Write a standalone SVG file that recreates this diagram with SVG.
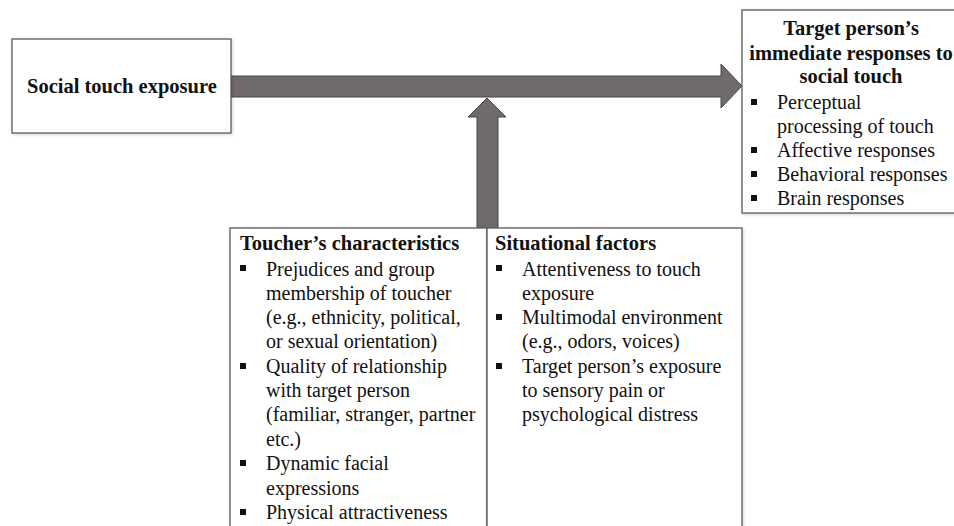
<svg xmlns="http://www.w3.org/2000/svg" width="954" height="526" viewBox="0 0 954 526">
<style>
.box{fill:#fff;stroke:#5a5a5a;stroke-width:1.3;filter:url(#sh)}
.arrow{fill:#716a6a;stroke:#4a4545;stroke-width:1}
.t{font-family:"Liberation Serif","Times New Roman",serif;font-size:20px;fill:#111}
.b{font-family:"Liberation Serif","Times New Roman",serif;font-size:20.5px;font-weight:bold;fill:#111}
.bul{fill:#111}
</style>
<defs>
<filter id="sh" x="-10%" y="-10%" width="120%" height="120%">
<feDropShadow dx="1" dy="1" stdDeviation="1.5" flood-color="#000" flood-opacity="0.18"/>
</filter>
</defs>
<g id="connectors">
<path class="arrow" d="M231,76 H721 V64 L742,86 L721,108 V97 H231 Z"/>
<path class="arrow" d="M477,230 V117 H468 L487,98 L506,117 H498 V230 Z"/>
</g>
<g id="social-touch-exposure">
<rect class="box" x="12" y="39" width="219" height="94"/>
<text class="b" x="27" y="93">Social touch exposure</text>
</g>
<g id="target-responses">
<rect class="box" x="742" y="10" width="220" height="203"/>
<text class="b" text-anchor="middle" x="851" y="35">Target person’s</text>
<text class="b" text-anchor="middle" x="851" y="60">immediate responses to</text>
<text class="b" text-anchor="middle" x="851" y="83">social touch</text>
<rect class="bul" x="751" y="99" width="6" height="6"/>
<text class="t" x="777" y="109">Perceptual</text>
<text class="t" x="777" y="133">processing of touch</text>
<rect class="bul" x="751" y="147" width="6" height="6"/>
<text class="t" x="777" y="157">Affective responses</text>
<rect class="bul" x="751" y="171" width="6" height="6"/>
<text class="t" x="777" y="181">Behavioral responses</text>
<rect class="bul" x="751" y="195" width="6" height="6"/>
<text class="t" x="777" y="205">Brain responses</text>
</g>
<g id="touchers-characteristics">
<rect class="box" x="230" y="228" width="257" height="310"/>
<text class="b" x="240" y="249.5">Toucher’s characteristics</text>
<rect class="bul" x="240" y="265" width="6" height="6"/>
<text class="t" x="266" y="275.5">Prejudices and group</text>
<text class="t" x="266" y="299.8">membership of toucher</text>
<text class="t" x="266" y="324.1">(e.g., ethnicity, political,</text>
<text class="t" x="266" y="348.4">or sexual orientation)</text>
<rect class="bul" x="240" y="363" width="6" height="6"/>
<text class="t" x="266" y="372.7">Quality of relationship</text>
<text class="t" x="266" y="397">with target person</text>
<text class="t" x="266" y="421.4">(familiar, stranger, partner</text>
<text class="t" x="266" y="445.8">etc.)</text>
<rect class="bul" x="240" y="460" width="6" height="6"/>
<text class="t" x="266" y="470.2">Dynamic facial</text>
<text class="t" x="266" y="494.6">expressions</text>
<rect class="bul" x="240" y="509" width="6" height="6"/>
<text class="t" x="266" y="519">Physical attractiveness</text>
</g>
<g id="situational-factors">
<rect class="box" x="487" y="228" width="255" height="310"/>
<text class="b" x="495" y="250">Situational factors</text>
<rect class="bul" x="496" y="265" width="6" height="6"/>
<text class="t" x="522" y="275.5">Attentiveness to touch</text>
<text class="t" x="522" y="299.8">exposure</text>
<rect class="bul" x="496" y="314" width="6" height="6"/>
<text class="t" x="522" y="324.1">Multimodal environment</text>
<text class="t" x="522" y="348.4">(e.g., odors, voices)</text>
<rect class="bul" x="496" y="363" width="6" height="6"/>
<text class="t" x="522" y="372.7">Target person’s exposure</text>
<text class="t" x="522" y="397">to sensory pain or</text>
<text class="t" x="522" y="421.4">psychological distress</text>
</g>
</svg>
